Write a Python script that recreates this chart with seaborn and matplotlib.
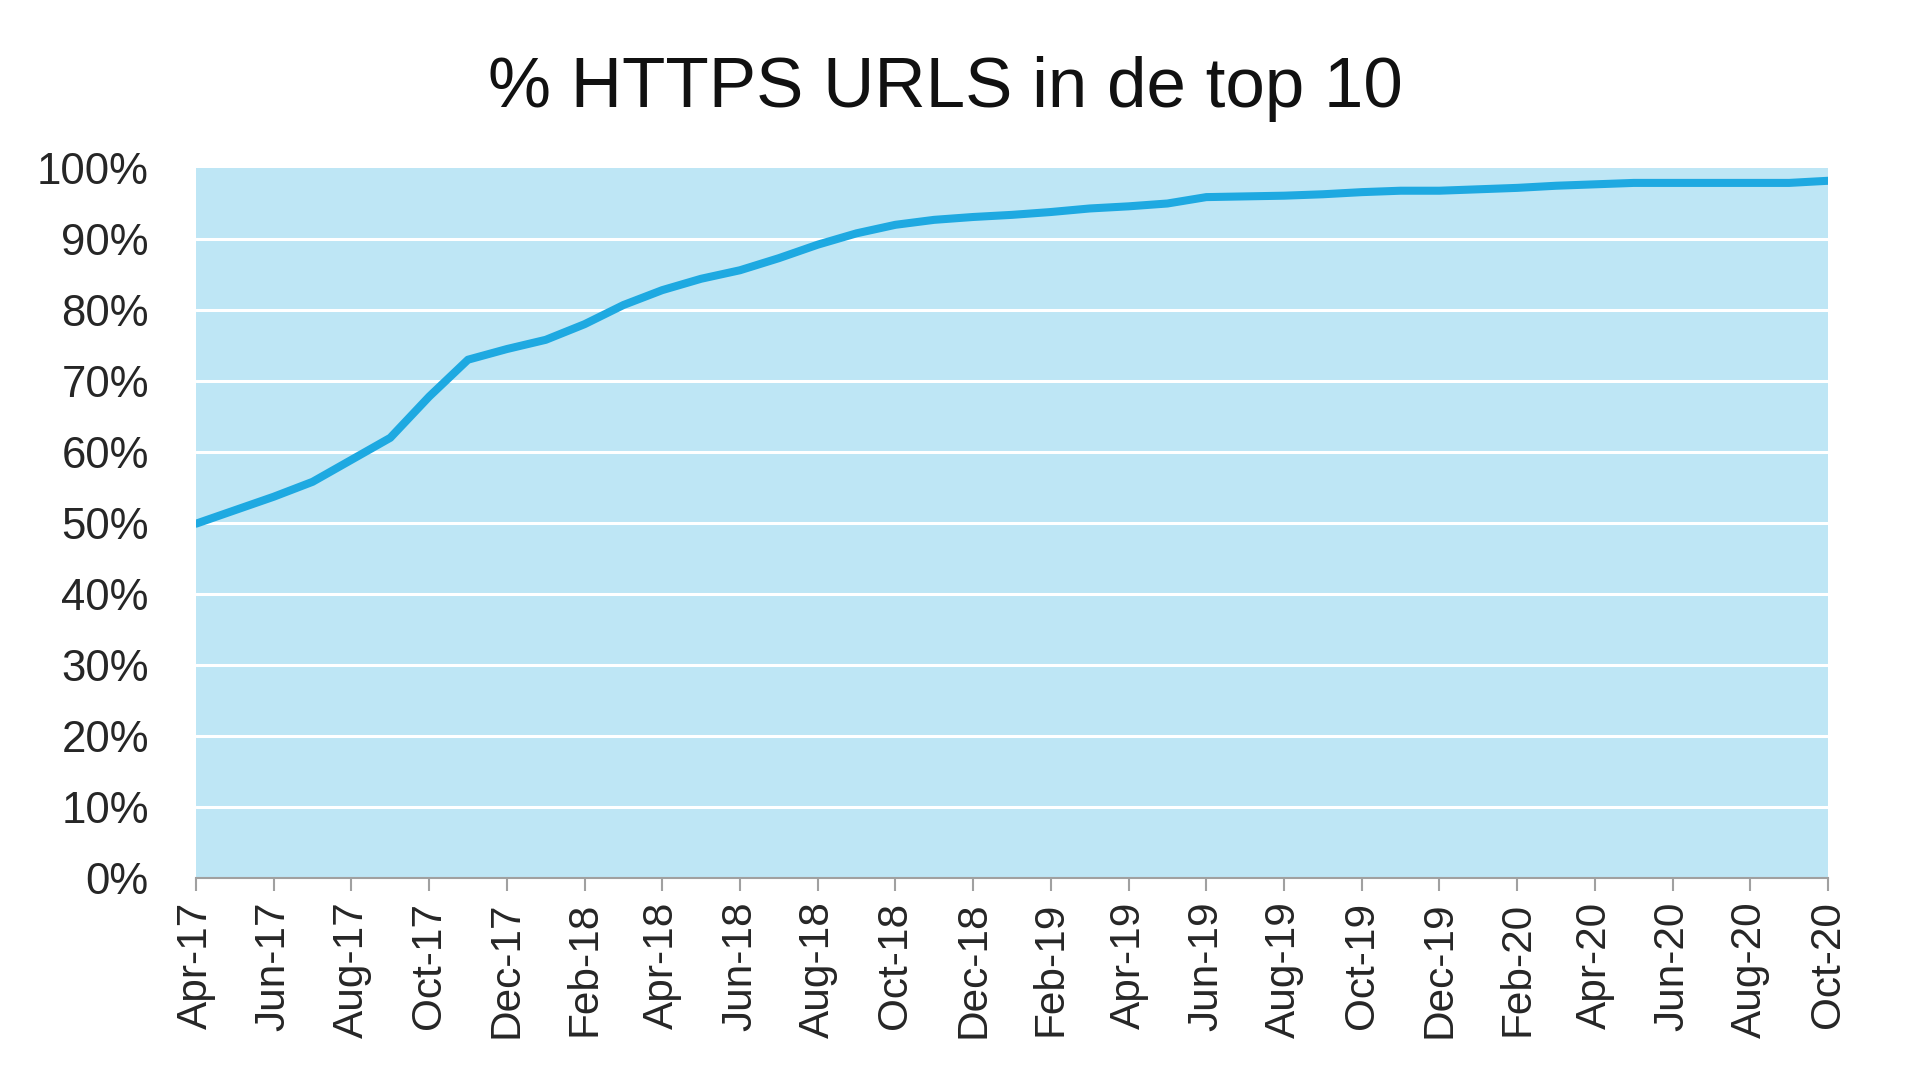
import matplotlib
matplotlib.use("Agg")
import matplotlib.pyplot as plt
import seaborn as sns
import pandas as pd

months = ["Apr-17", "May-17", "Jun-17", "Jul-17", "Aug-17", "Sep-17", "Oct-17", "Nov-17", "Dec-17",
          "Jan-18", "Feb-18", "Mar-18", "Apr-18", "May-18", "Jun-18", "Jul-18", "Aug-18", "Sep-18",
          "Oct-18", "Nov-18", "Dec-18", "Jan-19", "Feb-19", "Mar-19", "Apr-19", "May-19", "Jun-19",
          "Jul-19", "Aug-19", "Sep-19", "Oct-19", "Nov-19", "Dec-19", "Jan-20", "Feb-20", "Mar-20",
          "Apr-20", "May-20", "Jun-20", "Jul-20", "Aug-20", "Sep-20", "Oct-20"]
https_pct = [49.9, 51.8, 53.7, 55.8, 58.9, 62.0, 67.8, 73.0, 74.5,
             75.8, 78.0, 80.7, 82.8, 84.4, 85.6, 87.3, 89.2, 90.8,
             92.0, 92.7, 93.1, 93.4, 93.8, 94.3, 94.6, 95.0, 95.9,
             96.0, 96.1, 96.3, 96.6, 96.8, 96.8, 97.0, 97.2, 97.5,
             97.7, 97.9, 97.9, 97.9, 97.9, 97.9, 98.2]
y_ticks = [0, 10, 20, 30, 40, 50, 60, 70, 80, 90, 100]
title = "% HTTPS URLS in de top 10"

sns.set_theme(style="white")
plt.rcParams['font.family'] = ['Liberation Sans', 'DejaVu Sans']

df = pd.DataFrame({"idx": range(len(months)), "month": months, "pct": https_pct})

fig = plt.figure(figsize=(19.2, 10.74), dpi=100)
ax = fig.add_axes([196/1920, 1 - 878/1074, (1828 - 196)/1920, (878 - 168)/1074])
ax.set_facecolor("#bee6f5")

sns.lineplot(data=df, x="idx", y="pct", ax=ax, color="#1ea9e1", linewidth=5.8,
             solid_capstyle="round", zorder=3)

ax.set_xlim(0, len(months) - 1)
ax.set_ylim(0, 100)
ax.set_yticks(y_ticks)
ax.set_yticklabels([f"{v}%" for v in y_ticks])
tick_idx = list(range(0, len(months), 2))
ax.set_xticks(tick_idx)
ax.set_xticklabels([months[i] for i in tick_idx], rotation=90)

for v in y_ticks[1:-1]:
    ax.axhline(v, color="white", linewidth=2.2, zorder=2)

for s in ["top", "right", "left"]:
    ax.spines[s].set_visible(False)
ax.spines["bottom"].set_color("#a0a0a0")
ax.spines["bottom"].set_linewidth(1.5)

ax.tick_params(axis="y", length=0, pad=34, labelsize=31.5, labelcolor="#262626")
ax.tick_params(axis="x", length=9, width=1.5, color="#a0a0a0", direction="out",
               pad=8, labelsize=30.5, labelcolor="#262626", bottom=True)
ax.set_xlabel("")
ax.set_ylabel("")

fig.text(945/1920, 1 - 107/1074, title, ha="center", va="baseline",
         fontsize=51, color="#111111")

fig.savefig("out.png", dpi=100, facecolor="white")
